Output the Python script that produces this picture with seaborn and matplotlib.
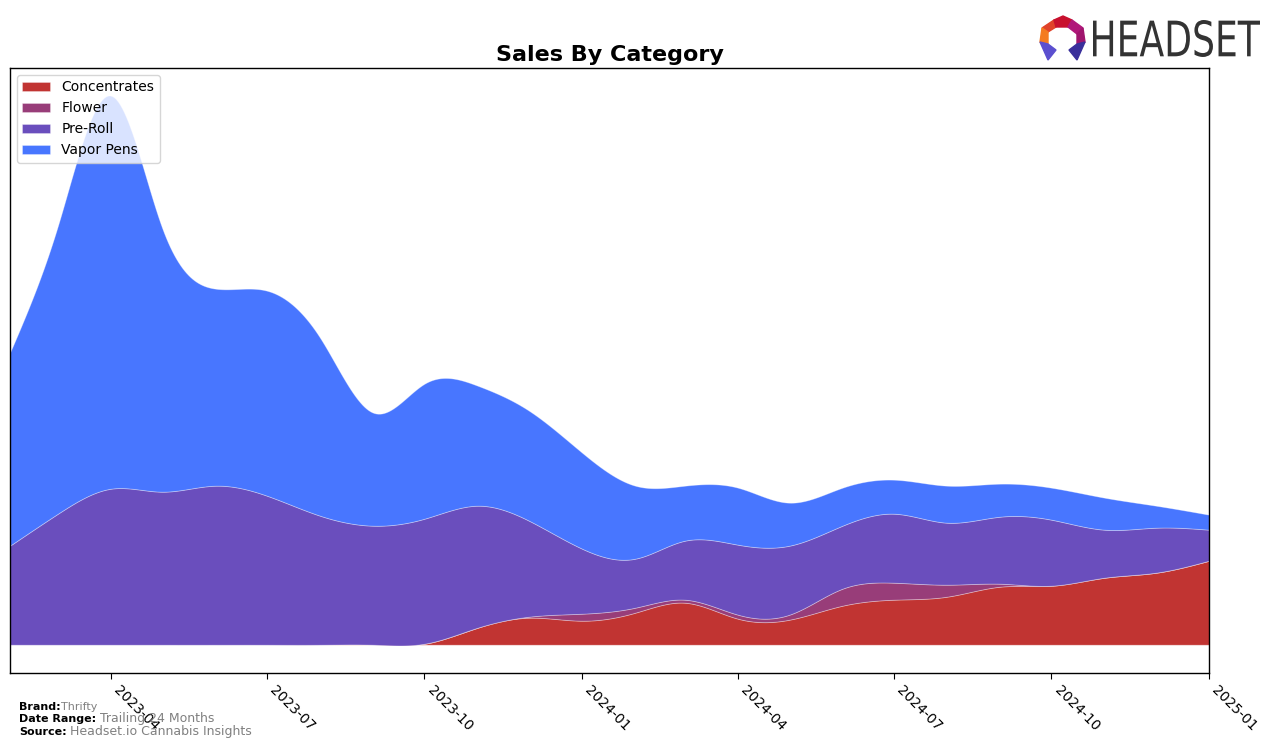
import numpy as np
import pandas as pd
import matplotlib
matplotlib.use("Agg")
import matplotlib.pyplot as plt
import matplotlib.dates as mdates
from matplotlib.patches import Polygon, PathPatch
from matplotlib.textpath import TextPath
from matplotlib.font_manager import FontProperties
from matplotlib.transforms import Affine2D
import seaborn as sns

# Monthly sales by category (arbitrary units)
months = pd.date_range("2023-02-01", periods=24, freq="MS")
categories = ["Concentrates", "Flower", "Pre-Roll", "Vapor Pens"]
concentrates = [0, 0, 0, 0, 0, 0, 0, 0, 1, 17, 27, 24,
                32, 42, 26, 25, 39, 45, 48, 58, 59, 67, 72, 84]
flower = [0, 0, 0, 0, 0, 0, 0, 0, 0, 0, 1, 7,
          5, 3, 4, 5, 17, 17, 12, 3, 0, 0, 0, 0]
pre_roll = [99, 131, 156, 153, 159, 149, 129, 119, 125, 122, 96, 65,
            49, 59, 70, 69, 63, 69, 62, 67, 66, 48, 45, 31]
vapor_pens = [193, 288, 393, 263, 197, 205, 178, 113, 135, 120, 110, 96,
              73, 55, 57, 43, 38, 34, 37, 33, 32, 32, 22, 15]
colors = ["#C13432", "#983D79", "#6A4EBD", "#4876FF"]

tick_dates = pd.date_range("2023-04-01", "2025-01-01", freq="3MS")


def natural_spline(x, y, xs):
    """Natural cubic spline through (x, y), evaluated at xs"""
    x = np.asarray(x, float)
    y = np.asarray(y, float)
    n = len(x)
    h = np.diff(x)
    A = np.zeros((n, n))
    b = np.zeros(n)
    A[0, 0] = 1
    A[-1, -1] = 1
    for i in range(1, n - 1):
        A[i, i - 1] = h[i - 1]
        A[i, i] = 2 * (h[i - 1] + h[i])
        A[i, i + 1] = h[i]
        b[i] = 6 * ((y[i + 1] - y[i]) / h[i] - (y[i] - y[i - 1]) / h[i - 1])
    M = np.linalg.solve(A, b)
    idx = np.clip(np.searchsorted(x, xs) - 1, 0, n - 2)
    x0, x1 = x[idx], x[idx + 1]
    hh = x1 - x0
    return (M[idx] * (x1 - xs) ** 3 / (6 * hh)
            + M[idx + 1] * (xs - x0) ** 3 / (6 * hh)
            + (y[idx] / hh - M[idx] * hh / 6) * (x1 - xs)
            + (y[idx + 1] / hh - M[idx + 1] * hh / 6) * (xs - x0))


sns.set_style("white")
plt.rcParams["font.family"] = ["DejaVu Sans"]
plt.rcParams["text.color"] = "black"
plt.rcParams["xtick.color"] = "black"
plt.rcParams["axes.labelcolor"] = "black"

fig = plt.figure(figsize=(12.76, 7.47), dpi=100)
ax = fig.add_axes([0.0078, 0.0991, 0.9397, 0.8099])

xnum = mdates.date2num(months)
xs = np.linspace(xnum[0], xnum[-1], 600)
series = [concentrates, flower, pre_roll, vapor_pens]
smooth = [natural_spline(xnum, s, xs) for s in series]

polys = ax.stackplot(xs, *smooth, colors=colors, labels=categories)
for p in polys:
    p.set_edgecolor((1, 1, 1, 0.35))
    p.set_linewidth(0.6)

ax.set_xlim(xnum[0], xnum[-1])
ax.set_yticks([])
ax.set_xticks(mdates.date2num(tick_dates))
ax.set_xticklabels([d.strftime("%Y-%m") for d in tick_dates],
                   rotation=-45, ha="left", va="top", fontsize=10)
ax.tick_params(axis="x", length=4, color="black", direction="out", bottom=True)
for sp in ax.spines.values():
    sp.set_color("black")
    sp.set_linewidth(1)

ax.set_title("Sales By Category", fontsize=16, fontweight="bold", pad=5)
ax.legend(loc="upper left", fontsize=10, framealpha=0.8)

# footer
fig.text(0.015, 0.050, "Brand:", fontsize=8, fontweight="bold")
fig.text(0.048, 0.050, "Thrifty", fontsize=8, color="gray")
fig.text(0.015, 0.033, "Date Range:", fontsize=8, fontweight="bold")
fig.text(0.078, 0.033, "Trailing 24 Months", fontsize=9, color="gray")
fig.text(0.015, 0.016, "Source:", fontsize=8, fontweight="bold")
fig.text(0.055, 0.016, "Headset.io Cannabis Insights", fontsize=9, color="gray")

# logo icon
W, H = 1276.0, 747.0
lax = fig.add_axes([1036 / W, 1 - 62 / H, 50 / W, 50 / H])
lax.set_xlim(0, 50)
lax.set_ylim(0, 50)
lax.axis("off")
pieces = [
    ([(6, 34), (18, 42), (20, 35), (12, 30)], "#E0422A"),
    ([(18, 42), (27, 46), (36, 42), (32, 35), (20, 35)], "#C8102E"),
    ([(36, 42), (47, 34), (41, 28), (32, 35)], "#B0177A"),
    ([(6, 34), (12, 30), (12, 18), (4, 20)], "#F47B20"),
    ([(47, 34), (41, 28), (41, 18), (49, 20)], "#A0156E"),
    ([(4, 20), (12, 18), (20, 12), (12, 2)], "#5B4FCF"),
    ([(49, 20), (41, 18), (33, 12), (41, 2)], "#3A2F9B"),
]
for pts, c in pieces:
    lax.add_patch(Polygon(pts, closed=True, color=c))

# logo word, squeezed into its box
tp = TextPath((0, 0), "HEADSET", size=40, prop=FontProperties(family="DejaVu Sans"))
ext = tp.get_extents()
x0, x1, y0, y1 = 1093, 1260, 747 - 57, 747 - 20
sx = (x1 - x0) / ext.width
sy = (y1 - y0) / ext.height
tr = Affine2D().translate(-ext.x0, -ext.y0).scale(sx / W, sy / H).translate(x0 / W, y0 / H)
fig.add_artist(PathPatch(tp, transform=tr + fig.transFigure,
                         facecolor="#333333", edgecolor="none"))

fig.savefig("out.png", dpi=100)
